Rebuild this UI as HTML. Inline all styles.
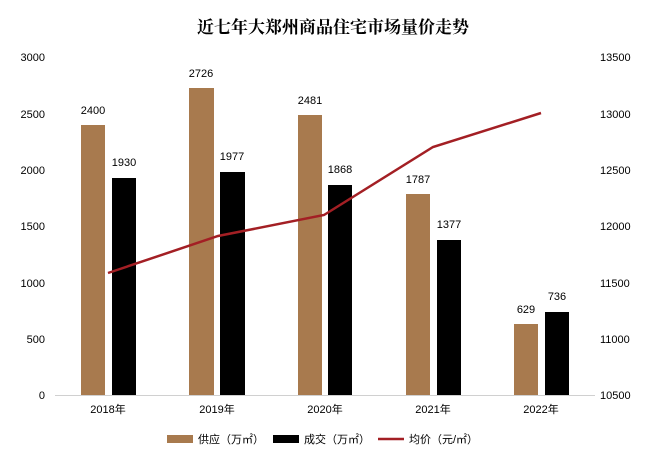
<!DOCTYPE html><html><head><meta charset="utf-8"><style>
body{margin:0;background:#fff}
svg text{font-family:"Liberation Sans","Noto Sans CJK SC",sans-serif;font-size:11px;fill:#000}
</style></head><body>
<svg width="645" height="456" xmlns="http://www.w3.org/2000/svg">
<rect width="645" height="456" fill="#fff"/>
<text x="333" y="33" text-anchor="middle" style="font-family:'Noto Serif CJK SC','Noto Sans CJK SC',serif;font-size:17px;font-weight:bold">近七年大郑州商品住宅市场量价走势</text>
<g text-anchor="end">
<text x="45" y="61">3000</text><text x="45" y="118">2500</text><text x="45" y="174">2000</text><text x="45" y="230">1500</text><text x="45" y="287">1000</text><text x="45" y="343">500</text><text x="45" y="399">0</text>
</g>
<g text-anchor="start">
<text x="600" y="61">13500</text><text x="600" y="118">13000</text><text x="600" y="174">12500</text><text x="600" y="230">12000</text><text x="600" y="287">11500</text><text x="600" y="343">11000</text><text x="600" y="399">10500</text>
</g>
<line x1="55" y1="395.5" x2="595" y2="395.5" stroke="#d0d0d0"/>
<g fill="#a87a4e">
<rect x="81" y="125" width="24" height="270"/>
<rect x="189" y="88" width="25" height="307"/>
<rect x="298" y="115" width="24" height="280"/>
<rect x="406" y="194" width="24" height="201"/>
<rect x="514" y="324" width="24" height="71"/>
</g>
<g fill="#000">
<rect x="112" y="178" width="24" height="217"/>
<rect x="220" y="172" width="25" height="223"/>
<rect x="328" y="185" width="24" height="210"/>
<rect x="437" y="240" width="24" height="155"/>
<rect x="545" y="312" width="24" height="83"/>
</g>
<g text-anchor="middle">
<text x="93" y="114">2400</text><text x="124" y="166">1930</text>
<text x="201" y="77">2726</text><text x="232" y="160">1977</text>
<text x="310" y="104">2481</text><text x="340" y="173">1868</text>
<text x="418" y="183">1787</text><text x="449" y="228">1377</text>
<text x="526" y="313">629</text><text x="557" y="300">736</text>
<text x="108" y="413">2018年</text><text x="217" y="413">2019年</text><text x="325" y="413">2020年</text><text x="433" y="413">2021年</text><text x="541" y="413">2022年</text>
</g>
<polyline points="108,273 218,236 324,215 433,147 541,113" fill="none" stroke="#a31f24" stroke-width="2.5"/>
<rect x="167" y="435" width="26" height="8" fill="#a87a4e"/><text x="198" y="443">供应（万㎡）</text>
<rect x="273" y="435" width="26" height="8" fill="#000"/><text x="304" y="443">成交（万㎡）</text>
<line x1="378" y1="439" x2="404" y2="439" stroke="#a31f24" stroke-width="2.5"/><text x="409" y="443">均价（元/㎡）</text>
</svg>
</body></html>
